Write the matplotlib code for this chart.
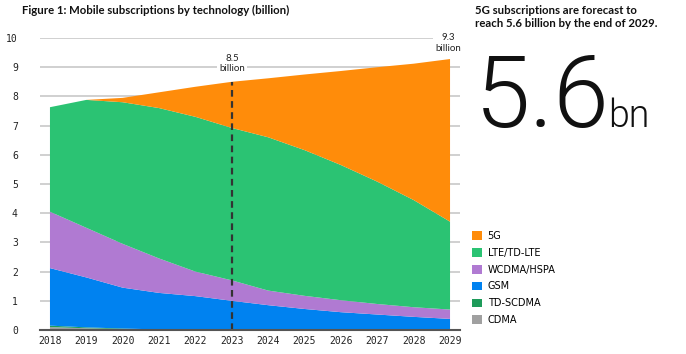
import matplotlib
matplotlib.use("Agg")
import matplotlib.pyplot as plt
import numpy as np

years = [2018, 2019, 2020, 2021, 2022, 2023, 2024, 2025, 2026, 2027, 2028, 2029]
cdma = [0.10, 0.06, 0.03, 0.01, 0, 0, 0, 0, 0, 0, 0, 0]
td_scdma = [0.05, 0.03, 0.02, 0.01, 0, 0, 0, 0, 0, 0, 0, 0]
gsm = [1.97, 1.71, 1.40, 1.25, 1.16, 1.00, 0.85, 0.72, 0.61, 0.53, 0.45, 0.38]
wcdma = [1.93, 1.70, 1.50, 1.18, 0.84, 0.70, 0.50, 0.45, 0.41, 0.36, 0.33, 0.32]
lte = [3.58, 4.38, 4.85, 5.15, 5.30, 5.22, 5.25, 4.99, 4.63, 4.19, 3.67, 3.01]
g5 = [0, 0, 0.15, 0.54, 1.03, 1.58, 2.02, 2.59, 3.22, 3.92, 4.67, 5.57]

series_names = ["CDMA", "TD-SCDMA", "GSM", "WCDMA/HSPA", "LTE/TD-LTE", "5G"]
colors = ["#a0a0a0", "#1e9b5a", "#0082f0", "#b07ad2", "#2bc373", "#ff8c0a"]
yticks = list(range(0, 11))

W, H = 686, 354
fig = plt.figure(figsize=(W / 100, H / 100), dpi=100)
ax = fig.add_axes([40 / W, 1 - 330 / H, 420 / W, 292 / H])

ax.stackplot(years, cdma, td_scdma, gsm, wcdma, lte, g5, colors=colors,
             linewidth=0, zorder=2)
ax.set_xlim(2018 - 10 / 36.5, 2029 + 10 / 36.5)
ax.set_ylim(0, 10)
ax.set_yticks(yticks)
ax.set_xticks(years)
ax.grid(axis="y", color="#c8c8c8", linewidth=1.2, zorder=0)
ax.set_axisbelow(True)
for s in ["top", "right", "left"]:
    ax.spines[s].set_visible(False)
ax.spines["bottom"].set_color("#555555")
ax.spines["bottom"].set_linewidth(1.5)
ax.spines["bottom"].set_zorder(5)
ax.tick_params(length=0, labelsize=7, colors="#222222")
ax.tick_params(axis="y", pad=16)
ax.tick_params(axis="x", pad=4)
for lab in ax.get_xticklabels() + ax.get_yticklabels():
    lab.set_family("DejaVu Sans Mono")

total = np.sum([cdma, td_scdma, gsm, wcdma, lte, g5], axis=0)
ax.plot([2023, 2023], [0, total[5]], color="#333333", linestyle=(0, (3, 2)),
        linewidth=1.6, zorder=4)
ax.text(2023, 8.8, "8.5\nbillion", ha="center", va="bottom", fontsize=7,
        family="Lato", color="#222222", linespacing=1.2,
        bbox=dict(facecolor="white", edgecolor="none", pad=1.5), zorder=3)
ax.text(2028.95, 9.5, "9.3\nbillion", ha="center", va="bottom", fontsize=7,
        family="Lato", color="#222222", linespacing=1.2,
        bbox=dict(facecolor="white", edgecolor="none", pad=1.5), zorder=3,
        clip_on=False)

fig.text(22 / W, 1 - 5 / H, "Figure 1: Mobile subscriptions by technology (billion)",
         ha="left", va="top", fontsize=8.2, fontweight="bold", family="Lato",
         color="#111111")
fig.text(475 / W, 1 - 5 / H,
         "5G subscriptions are forecast to\nreach 5.6 billion by the end of 2029.",
         ha="left", va="top", fontsize=8.2, fontweight="bold", family="Lato",
         color="#111111", linespacing=1.25)
fig.text(475 / W, 1 - 127 / H, "5.6", ha="left", va="baseline", fontsize=72,
         fontweight=300, family="Roboto", color="#111111")
fig.text(608 / W, 1 - 127 / H, "bn", ha="left", va="baseline", fontsize=27,
         fontweight=300, family="Roboto", color="#111111")

# legend
leg_names = series_names[::-1]
leg_colors = colors[::-1]
handles = [plt.Rectangle((0, 0), 1, 1, facecolor=c, edgecolor="none") for c in leg_colors]
leg = fig.legend(handles, leg_names, loc="upper left",
                 bbox_to_anchor=(472 / W, 1 - 231 / H), frameon=False,
                 prop={"family": "DejaVu Sans", "size": 7}, handlelength=1.0,
                 handleheight=1.0, handletextpad=0.6, labelspacing=0.7,
                 borderaxespad=0, borderpad=0)

fig.savefig("out.png", dpi=100)
